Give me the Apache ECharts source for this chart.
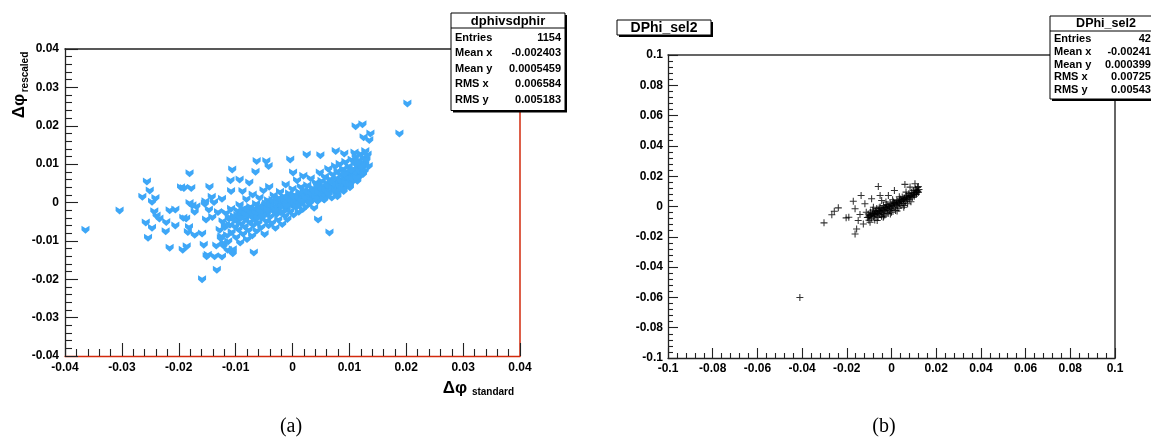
<!DOCTYPE html>
<html><head><meta charset="utf-8">
<script src="https://cdn.jsdelivr.net/npm/echarts@6/dist/echarts.min.js"></script>
<style>html,body{margin:0;padding:0;background:#fff}#c{width:1151px;height:439px}</style>
</head><body><div id="c"></div>
<script>
// ---------- DATA ----------
// Panel (a): dphi_standard (x) vs dphi_rescaled (y); isolated points
const outliersA = [
 [-0.0364,-0.0071],[-0.0304,-0.0021],[-0.0256,0.0055],[-0.0251,0.0031],[-0.0264,0.0015],[-0.0247,0.0002],
 [-0.0241,0.0012],[-0.0243,-0.0023],[-0.0239,-0.0034],[-0.0234,-0.0042],[-0.0258,-0.0052],[-0.0247,-0.0066],
 [-0.0254,-0.0092],[-0.0222,-0.0051],[-0.0223,-0.0075],[-0.0216,-0.0020],[-0.0206,-0.0018],[-0.0216,-0.0118],
 [-0.0206,-0.0060],[-0.0196,0.0040],[-0.0191,0.0038],[-0.0181,0.0076],[-0.0178,0.0038],[-0.0192,-0.0040],
 [-0.0187,-0.0042],[-0.0193,-0.0123],[-0.0186,-0.0114],[-0.0182,-0.0064],[-0.0184,-0.0077],[-0.0181,-0.0001],
 [-0.0176,-0.0007],[-0.0172,-0.0024],[-0.0169,-0.0010],[-0.0172,-0.0084],[-0.0159,-0.0081],[-0.0159,-0.0200],
 [-0.0156,-0.0110],[-0.0152,-0.0044],[-0.0149,-0.0136],[-0.0151,-0.0140],[-0.0146,0.0041],[-0.0153,0.0003],
 [-0.0154,-0.0003],[-0.0147,-0.0018],[-0.0142,0.0015],[-0.0138,0.0001],[-0.0141,-0.0038],[-0.0137,-0.0140],
 [-0.0134,-0.0112],[-0.0133,-0.0175],[-0.0131,-0.0025],[-0.0124,0.0010],[-0.0124,-0.0141],[-0.0125,-0.0088],
 [-0.0121,-0.0105],[-0.0117,-0.0058],[-0.0114,-0.0123],[-0.0109,0.0058],[-0.0106,0.0086],[-0.0108,0.0030],
 [-0.0105,-0.0132],[-0.0093,0.0060],[-0.0088,0.0030],[-0.0076,0.0052],[-0.0068,-0.0130],[-0.0065,0.0080],
 [-0.0063,0.0108],[-0.0046,0.0108],[-0.0042,0.0095],[-0.0004,0.0112],[0.0001,0.0078],[0.0025,0.0125],
 [0.0045,-0.0044],[0.0049,0.0123],[0.0065,-0.0078],[0.0076,0.0134],[0.0089,0.0043],[0.0091,0.0128],
 [0.0109,0.0130],[0.0128,0.0134],[0.0135,0.0163],[0.0125,0.0170],[0.0137,0.0180],[0.0123,0.0204],
 [0.0111,0.0199],[0.0188,0.0180],[0.0202,0.0258]
];
// Panel (a): body of the distribution
const coreA = [
 [-0.0128,-0.0071],[-0.0126,-0.0093],[-0.0123,-0.0049],[-0.0121,-0.0112],[-0.0119,-0.0064],[-0.0117,-0.0027],[-0.0115,-0.0085],[-0.0113,-0.0101],[-0.0112,-0.0041],[-0.0110,-0.0058],[-0.0108,-0.0016],[-0.0107,-0.0077],[-0.0105,-0.0122],[-0.0103,-0.0035],[-0.0101,-0.0062],
 [-0.0099,-0.0090],[-0.0098,-0.0047],[-0.0096,-0.0021],[-0.0095,-0.0069],[-0.0093,-0.0006],[-0.0092,-0.0104],[-0.0090,-0.0054],[-0.0089,-0.0033],[-0.0087,-0.0081],[-0.0086,-0.0015],[-0.0084,-0.0062],[-0.0083,-0.0043],[-0.0081,0.0009],[-0.0080,-0.0095],[-0.0078,-0.0027],[-0.0077,-0.0071],[-0.0075,-0.0050],[-0.0074,-0.0011],[-0.0072,-0.0036],[-0.0071,-0.0086],[-0.0070,0.0021],
 [-0.0069,-0.0058],[-0.0067,-0.0022],[-0.0066,-0.0044],[-0.0064,-0.0003],[-0.0063,-0.0073],[-0.0061,-0.0031],[-0.0060,-0.0052],[-0.0058,0.0013],[-0.0057,-0.0015],[-0.0055,-0.0064],[-0.0054,-0.0039],[-0.0052,-0.0024],[-0.0051,0.0032],[-0.0049,-0.0082],[-0.0048,-0.0008],[-0.0046,-0.0047],[-0.0045,-0.0029],[-0.0043,0.0006],[-0.0042,-0.0059],[-0.0040,-0.0017],[-0.0041,0.0041],
 [-0.0039,-0.0036],[-0.0037,0.0002],[-0.0036,-0.0052],[-0.0034,-0.0021],[-0.0033,0.0019],[-0.0031,-0.0009],[-0.0030,-0.0066],[-0.0028,-0.0030],[-0.0027,0.0009],[-0.0025,-0.0044],[-0.0024,-0.0013],[-0.0022,0.0028],[-0.0021,-0.0025],[-0.0019,0.0003],[-0.0018,-0.0056],[-0.0016,-0.0007],[-0.0015,0.0016],[-0.0013,-0.0034],[-0.0012,0.0047],[-0.0010,-0.0016],[-0.0011,0.0008],
 [-0.0009,-0.0043],[-0.0007,0.0001],[-0.0006,0.0024],[-0.0004,-0.0022],[-0.0003,0.0012],[-0.0001,-0.0006],[0.0000,0.0036],[0.0002,-0.0031],[0.0003,0.0004],[0.0005,0.0019],[0.0006,-0.0012],[0.0008,0.0058],[0.0009,0.0008],[0.0011,-0.0024],[0.0012,0.0027],[0.0014,-0.0003],[0.0015,0.0041],[0.0017,0.0013],[0.0018,-0.0017],[0.0020,0.0032],[0.0019,0.0070],
 [0.0021,0.0005],[0.0023,0.0021],[0.0024,-0.0009],[0.0026,0.0045],[0.0027,0.0014],[0.0029,0.0030],[0.0030,-0.0001],[0.0032,0.0063],[0.0033,0.0023],[0.0035,0.0008],[0.0036,0.0038],[0.0038,-0.0014],[0.0039,0.0017],[0.0041,0.0052],[0.0042,0.0029],[0.0044,0.0004],[0.0045,0.0041],[0.0047,0.0020],[0.0048,0.0078],[0.0050,0.0033],[0.0049,0.0011],
 [0.0051,0.0057],[0.0053,0.0025],[0.0054,0.0043],[0.0056,0.0008],[0.0057,0.0068],[0.0059,0.0036],[0.0060,0.0017],[0.0062,0.0050],[0.0063,0.0088],[0.0065,0.0029],[0.0066,0.0061],[0.0068,0.0042],[0.0069,0.0013],[0.0071,0.0074],[0.0072,0.0053],[0.0074,0.0034],[0.0075,0.0095],[0.0077,0.0064],[0.0078,0.0023],[0.0080,0.0046],[0.0079,0.0082],
 [0.0081,0.0058],[0.0083,0.0101],[0.0084,0.0039],[0.0086,0.0072],[0.0087,0.0051],[0.0089,0.0088],[0.0090,0.0030],[0.0092,0.0065],[0.0093,0.0106],[0.0095,0.0047],[0.0096,0.0080],[0.0098,0.0060],[0.0099,0.0095],[0.0101,0.0040],[0.0102,0.0073],[0.0104,0.0112],[0.0105,0.0055],
 [0.0107,0.0087],[0.0108,0.0068],[0.0110,0.0102],[0.0111,0.0120],[0.0113,0.0079],[0.0114,0.0057],[0.0116,0.0094],[0.0117,0.0111],[0.0119,0.0070],[0.0120,0.0127],[0.0122,0.0088],[0.0123,0.0104],[0.0125,0.0118],[0.0127,0.0083],[0.0128,0.0099],[0.0130,0.0112],[0.0132,0.0125],[0.0134,0.0095]
];
// Panel (a): densest band
const bandA = [
 [-0.0108,-0.0040],[-0.0102,-0.0045],[-0.0097,-0.0032],[-0.0091,-0.0040],[-0.0088,-0.0025],[-0.0082,-0.0031],[-0.0079,-0.0018],[-0.0073,-0.0026],[-0.0068,-0.0016],[-0.0065,-0.0027],[-0.0059,-0.0010],[-0.0056,-0.0023],[-0.0050,-0.0013],[-0.0047,-0.0001],[-0.0044,-0.0018],[-0.0038,-0.0007],[-0.0035,0.0007],[-0.0032,-0.0012],[-0.0026,-0.0002],[-0.0023,0.0012],[-0.0020,-0.0010],[-0.0014,0.0002],[-0.0011,-0.0007],[-0.0008,0.0012],[-0.0002,0.0003],[0.0001,0.0017],[0.0004,-0.0003],[0.0010,0.0014],[0.0013,0.0026],[0.0016,0.0005],[0.0022,0.0015],[0.0025,0.0029],[0.0028,0.0009],[0.0034,0.0022],[0.0037,0.0031],[0.0040,0.0011],[0.0046,0.0027],[0.0049,0.0040],[0.0052,0.0019],[0.0058,0.0031],[0.0061,0.0045],[0.0064,0.0022],[0.0070,0.0037],[0.0073,0.0050],[0.0076,0.0030],[0.0082,0.0044],[0.0085,0.0057],[0.0088,0.0035],[0.0094,0.0051],[0.0097,0.0066],[0.0100,0.0048],[0.0106,0.0061],[0.0109,0.0078],[0.0112,0.0065],[0.0118,0.0082],[0.0121,0.0096],[0.0124,0.0074],[-0.0062,-0.0040],[-0.0053,-0.0035],[-0.0029,-0.0020],[-0.0017,-0.0024],[0.0007,-0.0010],[0.0031,0.0001],[0.0043,0.0046],[0.0055,0.0009],[0.0067,0.0056],[0.0079,0.0016],[0.0091,0.0075],[0.0103,0.0085],[0.0115,0.0104]
];
// Panel (b): DPhi_sel2
const outliersB = [
 [-0.0410,-0.0600],[-0.0302,-0.0108],[-0.0267,-0.0055],[-0.0256,-0.0031],[-0.0238,-0.0009],[-0.0203,-0.0075],
 [-0.0191,-0.0071],[-0.0171,0.0035],[-0.0163,-0.0015],[-0.0163,-0.0181],[-0.0156,-0.0148],[-0.0149,-0.0093],
 [-0.0136,0.0073],[-0.0141,-0.0053],[-0.0126,-0.0115],[-0.0119,0.0018],[-0.0113,-0.0038],[-0.0104,-0.0071],
 [-0.0096,-0.0104],[-0.0089,0.0051],[-0.0081,-0.0005],[-0.0074,-0.0048],[-0.0064,-0.0093],[-0.0059,0.0132],
 [-0.0051,0.0073],[-0.0044,0.0040],[-0.0037,-0.0071],[0.0013,0.0106],[-0.0014,0.0073],[0.0060,0.0146],
 [0.0083,0.0128],[0.0105,0.0150],[0.0120,0.0132],[0.0113,0.0106]
];
const coreB = [
 [-0.0108,-0.0072],[-0.0104,-0.0050],[-0.0101,-0.0091],[-0.0097,-0.0060],[-0.0094,-0.0036],[-0.0090,-0.0078],[-0.0087,-0.0052],[-0.0084,-0.0024],[-0.0081,-0.0066],[-0.0078,-0.0043],[-0.0075,-0.0089],[-0.0072,-0.0031],[-0.0069,-0.0058],[-0.0066,-0.0013],[-0.0063,-0.0046],[-0.0060,-0.0072],[-0.0057,-0.0027],[-0.0054,-0.0052],[-0.0051,-0.0004],[-0.0048,-0.0038],[-0.0045,-0.0064],[-0.0042,-0.0018],[-0.0039,-0.0044],[-0.0036,0.0006],[-0.0033,-0.0029],[-0.0030,-0.0056],[-0.0027,-0.0010],[-0.0024,-0.0036],[-0.0021,0.0013],[-0.0018,-0.0021],[-0.0015,-0.0046],[-0.0012,-0.0002],[-0.0009,-0.0027],[-0.0006,0.0021],[-0.0003,-0.0013],[0.0000,-0.0038],[0.0003,0.0006],[0.0006,-0.0018],[0.0009,0.0030],[0.0012,-0.0004],[0.0015,0.0019],[0.0018,-0.0027],[0.0021,0.0012],[0.0024,0.0040],[0.0027,0.0003],[0.0030,0.0026],[0.0033,-0.0012],[0.0036,0.0018],[0.0039,0.0049],[0.0042,0.0008],[0.0045,0.0034],[0.0048,0.0062],[0.0051,0.0020],[0.0054,0.0045],[0.0057,0.0007],[0.0060,0.0056],[0.0063,0.0031],[0.0066,0.0074],[0.0069,0.0043],[0.0072,0.0018],[0.0075,0.0062],[0.0078,0.0086],[0.0081,0.0048],[0.0084,0.0071],[0.0087,0.0032],[0.0090,0.0094],[0.0093,0.0060],[0.0096,0.0082],[0.0099,0.0105],[0.0102,0.0068],[0.0105,0.0092],[0.0108,0.0115],[0.0111,0.0080],[0.0114,0.0102],[0.0117,0.0125],[0.0120,0.0093],[0.0123,0.0112],
 [-0.0100,-0.0065],[-0.0092,-0.0058],[-0.0083,-0.0048],[-0.0076,-0.0050],[-0.0068,-0.0038],[-0.0061,-0.0034],[-0.0052,-0.0030],[-0.0046,-0.0023],[-0.0037,-0.0017],[-0.0031,-0.0010],[-0.0022,-0.0006],[-0.0016,0.0000],[-0.0007,0.0004],[-0.0001,0.0010],[0.0008,0.0015],[0.0014,0.0021],[0.0022,0.0025],[0.0029,0.0032],[0.0037,0.0035],[0.0043,0.0042],[0.0052,0.0047],[0.0058,0.0053],[0.0067,0.0056],[0.0073,0.0063],[0.0082,0.0066],[0.0088,0.0073],[0.0097,0.0076],[0.0103,0.0083],[0.0112,0.0090],[0.0118,0.0100],[-0.0055,-0.0010],[-0.0025,0.0030],[0.0005,0.0045],[0.0035,0.0065],[0.0065,0.0095],[-0.0035,-0.0065],[-0.0005,-0.0050],[0.0025,-0.0030],[0.0055,-0.0005]
];
const statsA = [['Entries','1154'],['Mean x','-0.002403'],['Mean y','0.0005459'],['RMS x','0.006584'],['RMS y','0.005183']];
const statsB = [['Entries','424'],['Mean x','-0.002412'],['Mean y','0.0003996'],['RMS x','0.007258'],['RMS y','0.005438']];
const rangeA = [-0.04, 0.04], stepA = 0.01;
const rangeB = [-0.1, 0.1], stepB = 0.02;

// ---------- BUILD ----------
const dataA = outliersA.concat(coreA, bandA);
const dataB = outliersB.concat(coreB);
const fmt = v => { const s = parseFloat(v.toFixed(4)); return s === 0 ? '0' : String(s); };
const FONT = 'Liberation Sans, Arial, Helvetica, sans-serif';
const RED = '#d22a0c';
const TICK = '#222';
const lbl = {color:'#000', fontFamily:FONT, fontWeight:'bold', fontSize:12, formatter:fmt};

function mainAxis(gi, r, step, pos, tickLen, margin, lineColor){
  return {type:'value', gridIndex:gi, min:r[0], max:r[1], interval:step, position:pos,
    axisLine:{show:true, onZero:false, lineStyle:{color:lineColor || '#222', width:1.3}},
    axisTick:{show:true, inside:true, length:tickLen, lineStyle:{color:TICK, width:1.1}},
    minorTick:{show:true, splitNumber:5, length:Math.round(tickLen/2), lineStyle:{color:TICK, width:1.1}},
    splitLine:{show:false}, axisLabel:Object.assign({margin:margin}, lbl)};
}
function frameAxis(gi, r, pos, color){
  return {type:'value', gridIndex:gi, min:r[0], max:r[1], position:pos, offset:0,
    axisLine:{show:true, onZero:false, lineStyle:{color:color, width:1.5}},
    axisTick:{show:false}, minorTick:{show:false}, axisLabel:{show:false}, splitLine:{show:false}};
}

function statBox(x, y, w, title, rows, fs, titleFs, rowH, valRight){
  const h = 16 + rows.length*rowH + 4;
  const els = [
    {type:'rect', shape:{x:x+2, y:y+2, width:w, height:h}, style:{fill:'#000'}, z:100},
    {type:'rect', shape:{x:x, y:y, width:w, height:h}, style:{fill:'#fff', stroke:'#000', lineWidth:1}, z:101},
    {type:'line', shape:{x1:x, y1:y+15, x2:x+w, y2:y+15}, style:{stroke:'#000', lineWidth:1}, z:102},
    {type:'text', x:x+w/2, y:y+8, style:{text:title, fill:'#000', font:'bold '+titleFs+'px '+FONT, align:'center', verticalAlign:'middle'}, z:103}
  ];
  rows.forEach((r,i)=>{
    const cy = y + 16 + rowH*(i+0.5) + 1;
    els.push({type:'text', x:x+4, y:cy, style:{text:r[0], fill:'#000', font:'bold '+fs+'px '+FONT, align:'left', verticalAlign:'middle'}, z:103});
    els.push({type:'text', x:valRight, y:cy, style:{text:r[1], fill:'#000', font:'bold '+fs+'px '+FONT, align:'right', verticalAlign:'middle'}, z:103});
  });
  return els;
}

const graphics = [].concat(
  statBox(451, 13, 114, 'dphivsdphir', statsA, 11, 13, 15.5, 561),
  statBox(1050, 16, 112, 'DPhi_sel2', statsB, 11, 12.5, 12.6, 1157),
  [
    {type:'rect', shape:{x:619, y:22, width:94, height:15}, style:{fill:'#000'}, z:100},
    {type:'rect', shape:{x:617, y:20, width:94, height:15}, style:{fill:'#fff', stroke:'#000', lineWidth:1}, z:101},
    {type:'text', x:664, y:28, style:{text:'DPhi_sel2', fill:'#000', font:'bold 14px '+FONT, align:'center', verticalAlign:'middle'}, z:103},
    {type:'text', x:19, y:106, rotation:Math.PI/2, style:{text:'\u0394\u03c6', fill:'#000', font:'bold 17px '+FONT, align:'center', verticalAlign:'middle'}, z:103},
    {type:'text', x:25, y:72, rotation:Math.PI/2, style:{text:'rescaled', fill:'#000', font:'bold 10px '+FONT, align:'center', verticalAlign:'middle'}, z:103},
    {type:'text', x:455, y:388, style:{text:'\u0394\u03c6', fill:'#000', font:'bold 17px '+FONT, align:'center', verticalAlign:'middle'}, z:103},
    {type:'text', x:493, y:392, style:{text:'standard', fill:'#000', font:'bold 10px '+FONT, align:'center', verticalAlign:'middle'}, z:103},
    {type:'text', x:291, y:427, style:{text:'(a)', fill:'#000', font:'20px Liberation Serif, DejaVu Serif, serif', align:'center', verticalAlign:'middle'}, z:103},
    {type:'text', x:884, y:427, style:{text:'(b)', fill:'#000', font:'20px Liberation Serif, DejaVu Serif, serif', align:'center', verticalAlign:'middle'}, z:103}
  ]
);

const chart = echarts.init(document.getElementById('c'), null, {renderer:'canvas'});
chart.setOption({
  animation:false,
  backgroundColor:'#fff',
  grid:[
    {left:65, top:49, width:455, height:307},
    {left:668, top:55, width:447, height:303}
  ],
  xAxis:[
    mainAxis(0, rangeA, stepA, 'bottom', 13, 6, RED),
    frameAxis(0, rangeA, 'top', '#222'),
    mainAxis(1, rangeB, stepB, 'bottom', 10, 5),
    frameAxis(1, rangeB, 'top', '#333')
  ],
  yAxis:[
    mainAxis(0, rangeA, stepA, 'left', 13, 6),
    frameAxis(0, rangeA, 'right', RED),
    mainAxis(1, rangeB, stepB, 'left', 10, 5),
    frameAxis(1, rangeB, 'right', '#333')
  ],
  series:[
    {type:'scatter', xAxisIndex:0, yAxisIndex:0, data:dataA, z:3,
     symbol:'path://M0,0 L3,2.5 L6,0 L6,4.5 L3,8 L0,4.5 Z', symbolSize:[8,8],
     itemStyle:{color:'#3ea7f7', opacity:1}},
    {type:'scatter', xAxisIndex:2, yAxisIndex:2, data:dataB,
     symbol:'path://M3.4,0 H4.6 V3.4 H8 V4.6 H4.6 V8 H3.4 V4.6 H0 V3.4 H3.4 Z', symbolSize:[7,7],
     itemStyle:{color:'#000', opacity:0.8}}
  ],
  graphic:graphics
});
</script></body></html>
